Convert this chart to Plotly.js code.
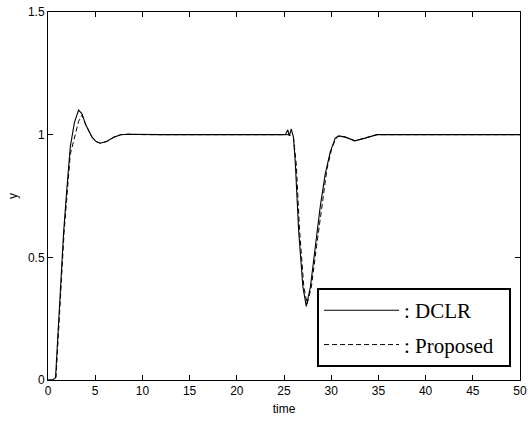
<!DOCTYPE html>
<html>
<head>
<meta charset="utf-8">
<script src="https://cdn.plot.ly/plotly-3.0.1.min.js"></script>
<style>html,body{margin:0;padding:0;background:#fff;}#chart{width:528px;height:421px;}</style>
</head>
<body>
<div id="chart"></div>
<script>
var seriesNames = [": DCLR\u00a0\u00a0", ": Proposed\u00a0\u00a0"];
var tDclr = [0, 0.5, 0.8, 1.2, 1.65, 2.0, 2.36, 2.8, 3.24, 3.6, 4.0, 4.66, 5.1, 5.54, 6.2, 7.0, 7.7, 8.5, 10, 12, 14, 16, 18, 20, 22, 24, 25.15, 25.4, 25.56, 25.77, 26.0, 26.2, 26.55, 27.0, 27.36, 27.8, 28.3, 28.85, 29.37, 29.9, 30.43, 30.8, 31.5, 32.5, 33.6, 34.85, 36, 40, 45, 50];
var yDclr = [0, 0, 0.01, 0.3, 0.6, 0.78, 0.95, 1.05, 1.10, 1.085, 1.04, 0.99, 0.972, 0.965, 0.972, 0.99, 1.0, 1.002, 1.0, 1.0, 1.0, 1.0, 1.0, 1.0, 1.0, 1.0, 1.0, 1.02, 0.995, 1.023, 0.99, 0.884, 0.61, 0.38, 0.30, 0.38, 0.545, 0.71, 0.84, 0.93, 0.986, 0.995, 0.99, 0.975, 0.986, 1.0, 1.0, 1.0, 1.0, 1.0];
var tProp = [0, 0.5, 0.85, 1.25, 1.7, 2.36, 2.7, 3.24, 3.6, 4.0, 4.66, 5.1, 5.54, 6.2, 7.0, 7.7, 8.5, 10, 15, 20, 25, 25.6, 26.0, 26.3, 26.65, 27.1, 27.45, 27.9, 28.45, 29.0, 29.55, 30.1, 30.6, 31, 31.5, 32.5, 33.6, 34.85, 36, 40, 45, 50];
var yProp = [0, 0, 0.01, 0.3, 0.6, 0.92, 0.97, 1.054, 1.08, 1.04, 0.99, 0.972, 0.965, 0.972, 0.99, 1.0, 1.002, 1.0, 1.0, 1.0, 1.0, 1.0, 0.99, 0.88, 0.61, 0.38, 0.31, 0.38, 0.545, 0.71, 0.86, 0.95, 0.99, 0.995, 0.99, 0.975, 0.986, 1.0, 1.0, 1.0, 1.0, 1.0];
var xTicks = [0, 5, 10, 15, 20, 25, 30, 35, 40, 45, 50];
var yTicks = [0, 0.5, 1, 1.5];

var traces = [
  {x: tDclr, y: yDclr, name: seriesNames[0], mode: "lines", legendgroup: "a",
   line: {color: "#000", width: 1.1, dash: "solid"}},
  {x: tProp, y: yProp, name: seriesNames[1], mode: "lines", legendgroup: "b",
   line: {color: "#000", width: 1, dash: "5px,3px"}}
];
var axisFont = {family: "Liberation Sans, Arial, sans-serif", size: 12, color: "#000"};
var layout = {
  width: 528, height: 421,
  margin: {l: 48, r: 8, t: 12, b: 41},
  paper_bgcolor: "#fff", plot_bgcolor: "#fff",
  font: axisFont,
  showlegend: true,
  legend: {
    x: 0.981, y: 0.035, xanchor: "right", yanchor: "bottom",
    bordercolor: "#000", borderwidth: 2, bgcolor: "#fff",
    font: {family: "Liberation Serif, Times New Roman, serif", size: 21, color: "#000"},
    itemwidth: 75, tracegroupgap: 4, traceorder: "grouped"
  },
  xaxis: {
    range: [0, 50], tickvals: xTicks, ticks: "inside", ticklen: 5, tickcolor: "#000",
    showline: true, linecolor: "#000", linewidth: 1, mirror: "ticks",
    showgrid: false, zeroline: false, tickfont: axisFont,
    title: {text: "time", font: axisFont, standoff: 7}
  },
  yaxis: {
    range: [0, 1.5], tickvals: yTicks, ticks: "inside", ticklen: 5, tickcolor: "#000",
    showline: true, linecolor: "#000", linewidth: 1, mirror: "ticks",
    showgrid: false, zeroline: false, tickfont: axisFont,
    title: {text: "y", font: axisFont, standoff: 7}
  }
};
Plotly.newPlot("chart", traces, layout, {staticPlot: true, displayModeBar: false});
</script>
</body>
</html>
